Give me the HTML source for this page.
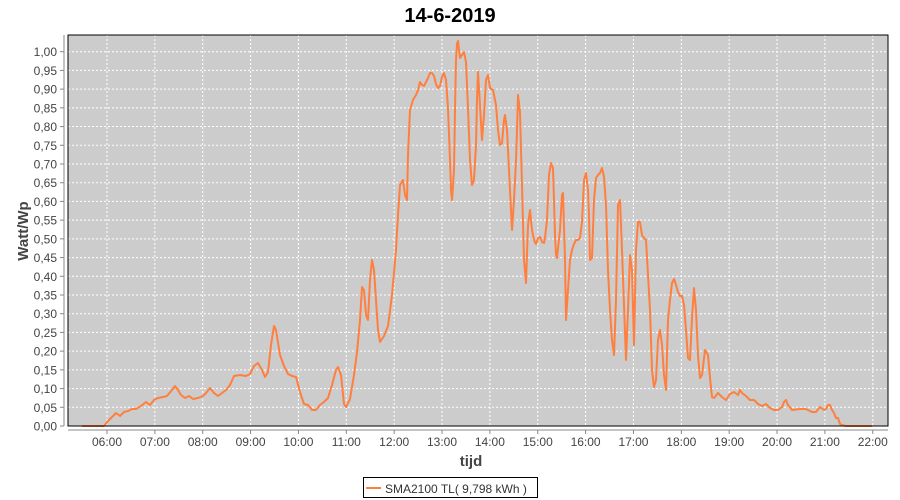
<!DOCTYPE html>
<html><head><meta charset="utf-8"><style>
html,body{margin:0;padding:0;background:#fff;width:900px;height:500px;overflow:hidden}
svg{display:block;font-family:"Liberation Sans",sans-serif}
</style></head><body>
<svg id="s" width="900" height="500" xmlns="http://www.w3.org/2000/svg">
<text x="450" y="22" text-anchor="middle" font-size="20" font-weight="bold" fill="#000">14-6-2019</text>
<rect x="68" y="35" width="820" height="391" fill="#cccccc"/>
<g id="grid" stroke="#fff" stroke-width="1" stroke-dasharray="2,2"></g>
<polyline id="ln" fill="none" stroke="#ff7f3f" stroke-width="2" stroke-linejoin="round" points=""/>
<rect x="68" y="35" width="820" height="391" fill="none" stroke="#000" stroke-width="1"/>
<line x1="64" y1="35" x2="64" y2="426" stroke="#888"/>
<line x1="68" y1="430" x2="888" y2="430" stroke="#888"/>
<g id="lab" font-size="12" fill="#444"></g>
<text x="471" y="466" text-anchor="middle" font-size="15" font-weight="bold" fill="#444">tijd</text>
<text transform="translate(28,231) rotate(-90)" text-anchor="middle" font-size="15" font-weight="bold" fill="#444">Watt/Wp</text>
<rect x="363.5" y="477.5" width="174" height="20" fill="#fff" stroke="#000"/>
<line x1="366" y1="488" x2="381" y2="488" stroke="#ff7f3f" stroke-width="2"/>
<text x="385" y="493" font-size="12" fill="#333">SMA2100 TL( 9,798 kWh )</text>
</svg>
<script>
var ns="http://www.w3.org/2000/svg",g=document.getElementById('grid'),lab=document.getElementById('lab');
function el(p,t,a,txt){var e=document.createElementNS(ns,t);for(var k in a)e.setAttribute(k,a[k]);if(txt)e.textContent=txt;p.appendChild(e);}
for(var k=0;k<=20;k++){var y=426-k*18.715;if(k>0)el(g,'line',{x1:68,x2:888,y1:y,y2:y});
el(lab,'line',{x1:60,x2:64,y1:y,y2:y,stroke:'#888'});
el(lab,'text',{x:57,y:y+4.5,'text-anchor':'end'},(k*0.05).toFixed(2).replace('.',','));}
for(var h=0;h<=16;h++){var x=107+h*47.86;el(g,'line',{x1:x,x2:x,y1:35,y2:426});
el(lab,'line',{x1:x,x2:x,y1:430,y2:434,stroke:'#888'});
el(lab,'text',{x:x,y:446,'text-anchor':'middle'},(h+6<10?'0':'')+(h+6)+':00');}
var p=[82,426,104,426,108,421,113,416,116,413,120,416,124,412,128,411,132,409,136,409,141,406,146,402,150,405,154,400,158,398,163,397,167,396,172,390,175,386,178,390,181,395,185,398,189,396,193,399,198,398,203,396,206,393,210,388,214,393,218,396,222,393,226,390,230,385,234,376,240,375,246,376,250,374,254,366,258,363,262,370,265,377,268,372,271,345,274,326,276,330,280,355,284,366,288,374,292,376,296,377,300,392,304,404,308,405,312,410,316,410,320,405,324,402,328,398,332,385,336,370,338,367,341,375,344,404,346,407,350,399,354,375,357,352,360,320,362,287,364,290,366,315,368,320,370,280,372,260,374,270,376,300,378,330,380,342,384,336,388,326,392,295,396,250,398,215,400,185,403,180,405,195,407,200,408,155,410,110,413,100,416,95,418,90,420,82,422,85,424,86,426,82,428,78,430,73,432,73,434,76,436,84,438,88,440,86,442,77,444,73,446,80,448,108,450,160,451,190,452,200,454,170,455,110,456,60,457,44,458,41,460,58,462,55,464,52,466,62,468,108,470,160,472,185,474,180,476,145,477,100,478,72,480,105,482,140,484,115,486,80,488,75,490,88,493,90,496,105,498,130,500,145,502,143,504,120,505,115,507,130,510,190,512,230,514,200,516,160,517,130,518,95,520,112,521,150,522,185,524,260,526,283,528,225,530,210,532,230,534,240,536,244,538,238,540,237,542,242,544,243,545,238,547,220,549,175,551,163,553,168,555,235,556,255,557,258,560,230,562,195,563,193,565,260,566,320,568,290,570,260,572,250,574,244,576,240,578,240,580,238,582,222,584,180,586,173,588,190,589,215,590,260,592,258,594,200,596,178,598,175,600,173,602,168,604,177,606,205,608,270,610,310,612,340,614,355,616,300,618,205,620,200,622,250,624,305,626,360,628,310,630,255,632,270,634,345,636,250,638,222,640,222,642,235,644,238,646,240,648,275,650,310,652,370,654,387,656,380,658,340,660,330,662,345,664,375,666,390,668,320,670,300,672,283,674,279,676,285,678,292,680,296,682,296,684,305,686,330,688,358,690,360,692,318,694,288,696,310,698,355,700,378,702,375,705,350,708,355,710,378,712,397,714,398,718,393,722,397,726,400,730,394,734,392,738,395,740,390,742,393,746,396,750,400,754,400,758,404,762,406,766,404,770,408,774,410,778,410,782,407,784,402,786,400,788,405,792,410,800,409,806,409,812,412,816,412,820,407,824,410,826,409,828,405,830,405,832,410,834,413,836,418,838,418,840,424,842,425,846,426,872,426];
var s=[];for(var i=0;i<p.length;i+=2)s.push(p[i]+','+p[i+1]);document.getElementById('ln').setAttribute('points',s.join(' '));
</script>
</body></html>
